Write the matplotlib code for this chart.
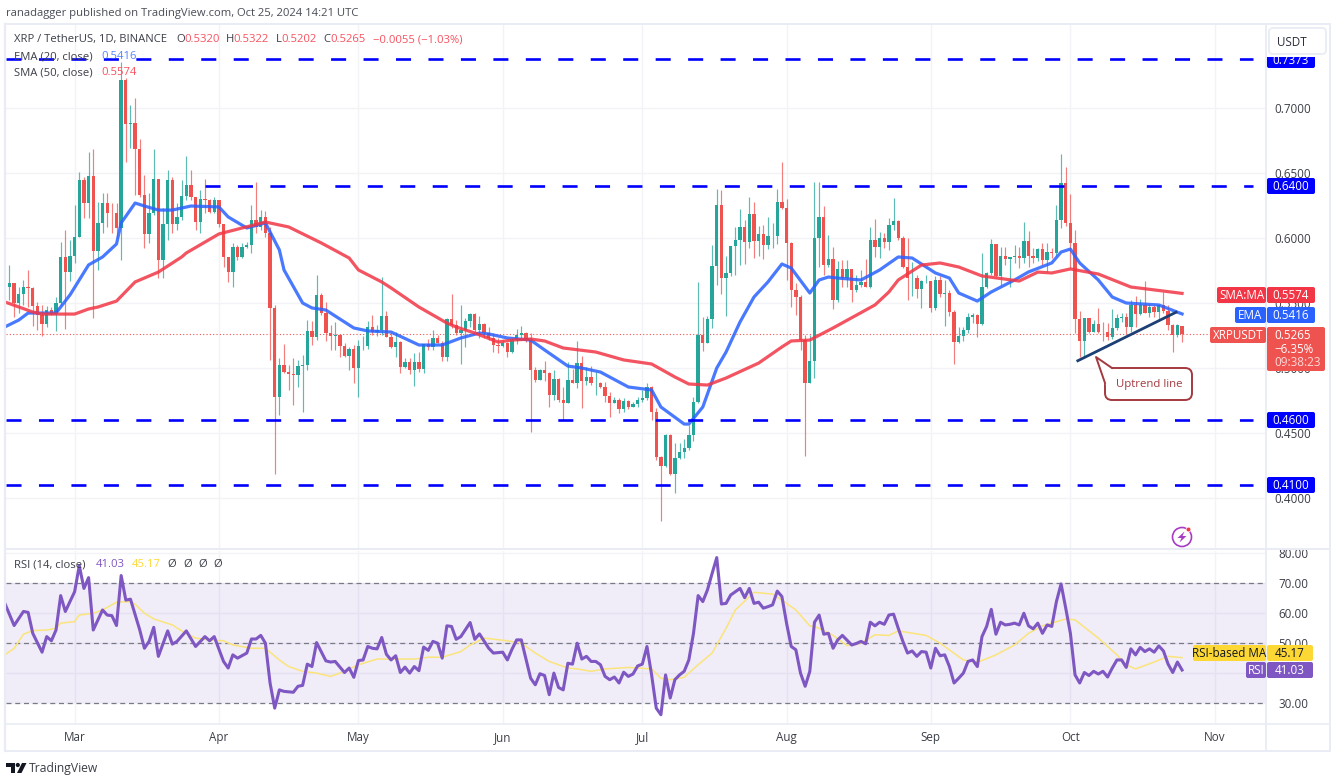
import matplotlib
matplotlib.use("Agg")
import matplotlib.pyplot as plt
from matplotlib.patches import FancyBboxPatch, Polygon, Circle, Rectangle
import numpy as np

plt.rcParams["font.family"] = ["Open Sans", "DejaVu Sans"]

# ----------------------------
# Candles, one per day from Feb 16 to Oct 25
# ----------------------------
first_open = 0.5621

closes = [
    .5652, .5498, .5570, .5621, .5618, .5477, .5408, .5339, .5446, .5421,
    .5498, .5857, .5741, .5862, .6010, .6446, .6267, .6477, .5903, .6118,
    .6267, .6195, .6190, .6075, .7215, .6877, .6887, .6687, .6331, .6028,
    .6190, .6451, .5831, .6108, .6446, .6108, .6164, .6323, .6408, .6318,
    .6126, .6300, .6292, .6203, .6292, .6108, .5857, .5741, .5928, .5857,
    .5933, .5946, .6139, .6087, .6164, .6036, .5459, .4780, .5023, .4972,
    .4954, .4946, .5016, .5023, .5287, .5241, .5562, .5421, .5272, .5246,
    .5254, .5170, .5093, .5144, .4998, .5170, .5172, .5313, .5277, .5293,
    .5400, .5236, .5159, .5203, .5011, .5049, .4985, .5049, .4990, .5185,
    .5164, .5229, .5195, .5087, .5377, .5331, .5267, .5292, .5364, .5415,
    .5292, .5336, .5267, .5228, .5177, .5169, .5190, .5126, .5215, .5254,
    .5267, .5215, .4985, .4908, .4985, .4959, .4792, .4913, .4754, .4733,
    .4908, .4887, .5041, .4903, .4928, .4882, .4885, .4851, .4787, .4733,
    .4754, .4687, .4749, .4703, .4720, .4754, .4769, .4851, .4664, .4318,
    .4246, .4485, .4185, .4305, .4351, .4382, .4485, .4736, .5254, .5195,
    .5374, .5785, .6254, .5690, .5728, .5938, .5985, .6082, .5972, .6182,
    .5979, .6028, .5946, .6015, .6018, .6274, .6228, .5959, .5600, .5549,
    .5215, .4882, .5056, .5997, .6164, .5792, .5838, .5523, .5762, .5690,
    .5762, .5600, .5638, .5664, .5626, .5985, .5933, .5997, .5972, .6100,
    .6131, .5997, .5780, .5690, .5695, .5605, .5669, .5672, .5459, .5677,
    .5569, .5574, .5433, .5203, .5246, .5292, .5395, .5408, .5338, .5621,
    .5728, .5954, .5708, .5862, .5836, .5851, .5862, .5844, .5979, .5862,
    .5844, .5913, .5831, .5895, .5882, .6138, .6421, .6113, .5959, .5374,
    .5210, .5382, .5279, .5336, .5279, .5274, .5241, .5305, .5382, .5395,
    .5318, .5485, .5415, .5485, .5426, .5472, .5428, .5485, .5441, .5331,
    .5254, .5331, .5265,
]

highs = [
    .5793, .5652, .5626, .5677, .5754, .5626, .5511, .5485, .5477, .5472,
    .5549, .5972, .6062, .5985, .6254, .6505, .6472, .6664, .6685, .6280,
    .6344, .6344, .6267, .6267, .7350, .7228, .7023, .7075, .6759, .6485,
    .6344, .6685, .6451, .6228, .6523, .6472, .6267, .6446, .6631, .6523,
    .6318, .6369, .6454, .6300, .6318, .6292, .6108, .5844, .5959, .5946,
    .5959, .5972, .6254, .6428, .6215, .6210, .6087, .5485, .5075, .5182,
    .5023, .5075, .5062, .5100, .5370, .5364, .5716, .5580, .5511, .5331,
    .5357, .5262, .5190, .5164, .5177, .5216, .5246, .5364, .5408, .5331,
    .5698, .5439, .5267, .5280, .5211, .5080, .5075, .5113, .5126, .5185,
    .5221, .5293, .5254, .5211, .5382, .5569, .5369, .5485, .5382, .5426,
    .5420, .5402, .5349, .5318, .5267, .5228, .5215, .5203, .5228, .5297,
    .5326, .5279, .5272, .5005, .4992, .5056, .4972, .4985, .4920, .4856,
    .5049, .4990, .5208, .5092, .5010, .5015, .4972, .4895, .4895, .4818,
    .4779, .4767, .4772, .4754, .4741, .4779, .4831, .4882, .4861, .4690,
    .4326, .4490, .4490, .4426, .4426, .4451, .4562, .4779, .5659, .5395,
    .5402, .5946, .6374, .6369, .5862, .5938, .6082, .6223, .6138, .6318,
    .6279, .6092, .6100, .6159, .6113, .6374, .6585, .6297, .5972, .5651,
    .5561, .5254, .5254, .6433, .6433, .6246, .6023, .5928, .5826, .5831,
    .5831, .5754, .5715, .5754, .5836, .6087, .6146, .6049, .6036, .6156,
    .6305, .6138, .6015, .5997, .5818, .5715, .5677, .5715, .5669, .5708,
    .5708, .5677, .5600, .5446, .5318, .5318, .5421, .5426, .5415, .5882,
    .5741, .5990, .5954, .5933, .5928, .5851, .5946, .5933, .6126, .6054,
    .5921, .5921, .5959, .5959, .5921, .6254, .6646, .6549, .6336, .6062,
    .5441, .5382, .5369, .5369, .5459, .5356, .5344, .5451, .5415, .5421,
    .5421, .5523, .5554, .5528, .5669, .5492, .5485, .5485, .5587, .5485,
    .5336, .5338, .5322,
]

lows = [
    .5523, .5395, .5421, .5485, .5472, .5323, .5293, .5246, .5313, .5408,
    .5287, .5485, .5298, .5672, .5805, .6005, .6152, .6152, .5382, .5754,
    .6036, .6087, .6036, .5998, .5831, .6587, .6690, .6331, .6318, .5921,
    .5959, .6177, .5690, .5690, .5985, .6036, .6062, .6139, .6292, .6292,
    .6062, .6036, .6190, .6190, .6190, .6087, .5780, .5664, .5626, .5831,
    .5844, .5921, .5882, .6036, .6062, .6010, .5062, .4185, .4639, .4959,
    .4831, .4716, .4857, .4664, .4985, .5177, .5216, .5408, .5211, .5139,
    .5139, .5082, .5082, .4985, .4882, .4780, .5139, .5144, .5254, .5246,
    .5254, .5236, .5152, .5087, .4964, .4998, .4954, .4864, .4972, .4964,
    .5139, .5139, .5195, .5057, .5056, .5305, .5254, .5028, .5164, .5318,
    .5279, .5233, .5228, .5215, .5126, .5113, .5164, .5082, .5118, .5182,
    .5228, .5203, .4510, .4895, .4908, .4903, .4703, .4754, .4741, .4600,
    .4728, .4882, .4844, .4690, .4869, .4869, .4792, .4844, .4741, .4620,
    .4728, .4651, .4664, .4682, .4697, .4697, .4741, .4754, .4600, .4292,
    .3826, .4236, .4177, .4036, .4297, .4305, .4369, .4441, .4728, .5133,
    .5190, .5305, .5638, .5569, .5400, .5708, .5715, .5792, .5797, .5920,
    .5844, .5862, .5836, .5913, .5920, .5954, .6220, .5677, .5467, .5408,
    .5138, .4323, .4882, .4920, .5779, .5715, .5779, .5451, .5510, .5626,
    .5626, .5505, .5587, .5620, .5620, .5613, .5856, .5844, .5920, .5908,
    .6062, .5985, .5767, .5523, .5554, .5536, .5459, .5651, .5433, .5446,
    .5549, .5323, .5400, .5031, .5195, .5210, .5272, .5344, .5236, .5331,
    .5613, .5715, .5703, .5638, .5792, .5626, .5805, .5767, .5805, .5780,
    .5805, .5823, .5792, .5741, .5844, .5862, .6080, .6092, .5767, .5267,
    .5082, .5074, .5272, .5279, .5272, .5210, .5215, .5221, .5292, .5356,
    .5262, .5279, .5318, .5408, .5421, .5395, .5395, .5364, .5426, .5292,
    .5121, .5241, .5202,
]

# ----------------------------
# Moving averages, read at their turning points
# ----------------------------
ema_days = [
    -1, 2, 4, 10, 13, 17, 20, 23, 24, 27, 29, 32, 35, 39, 45, 47, 51, 55, 58, 59,
    63, 65, 68, 74, 77, 82, 88, 93, 97, 101, 103, 107, 112, 115, 120, 123, 127,
    133, 138, 140, 145, 146, 149, 152, 154, 157, 160, 163, 166, 168, 172, 174,
    176, 178, 183, 187, 191, 194, 199, 202, 204, 208, 211, 216, 219, 224, 226,
    228, 230, 234, 237, 240, 247, 252,
]
ema_vals = [
    .5316, .5369, .5423, .5423, .5562, .5793, .5854, .5954, .6116, .6269, .6246,
    .6215, .6215, .6246, .6239, .6162, .6077, .6116, .5908, .5754, .5500, .5462,
    .5446, .5308, .5285, .5277, .5177, .5177, .5231, .5269, .5262, .5231, .5215,
    .5139, .5015, .5000, .4969, .4854, .4831, .4700, .4569, .4569, .4700, .5000,
    .5123, .5354, .5546, .5662, .5800, .5769, .5577, .5677, .5700, .5692, .5677,
    .5754, .5854, .5846, .5731, .5692, .5577, .5515, .5585, .5677, .5739, .5808,
    .5892, .5915, .5808, .5677, .5546, .5500, .5485, .5416,
]

sma_days = [
    -1, 5, 7, 14, 17, 19, 23, 27, 32, 37, 38, 45, 50, 55, 60, 67, 73, 75, 80, 82,
    88, 94, 96, 100, 105, 108, 112, 115, 119, 126, 132, 138, 143, 146, 150, 154,
    161, 166, 168, 172, 177, 186, 189, 191, 196, 200, 204, 209, 217, 221, 224,
    228, 234, 241, 248, 252,
]
sma_vals = [
    .5508, .5431, .5415, .5415, .5454, .5469, .5515, .5662, .5738, .5854, .5885,
    .6031, .6077, .6123, .6085, .5962, .5846, .5754, .5662, .5616, .5469, .5346,
    .5316, .5269, .5200, .5215, .5223, .5208, .5154, .5123, .5062, .5031, .4931,
    .4877, .4869, .4923, .5038, .5162, .5208, .5215, .5308, .5485, .5585, .5677,
    .5792, .5808, .5777, .5708, .5669, .5738, .5731, .5762, .5723, .5623, .5592,
    .5574,
]

# ----------------------------
# RSI pane
# ----------------------------
rsi_days = [
    -1, 1, 3, 4, 5, 7, 8, 9, 10, 11, 12, 14, 15, 16, 17, 18, 20, 21, 22, 23, 24,
    25, 26, 28, 29, 30, 31, 32, 34, 35, 36, 38, 40, 42, 43, 44, 46, 47, 48, 49,
    51, 52, 53, 54, 55, 56, 57, 58, 59, 61, 62, 63, 64, 65, 66, 68, 69, 70, 72,
    73, 74, 75, 76, 77, 78, 79, 80, 81, 82, 83, 84, 85, 86, 87, 88, 89, 90, 91,
    92, 93, 94, 95, 96, 97, 99, 100, 101, 103, 104, 106, 107, 108, 109, 110,
    112, 113, 114, 115, 116, 117, 118, 119, 120, 121, 122, 123, 124, 125, 126,
    127, 128, 129, 130, 131, 132, 133, 134, 135, 136, 137, 138, 139, 140, 141,
    142, 143, 144, 145, 146, 147, 148, 149, 150, 151, 152, 153, 154, 155, 156,
    157, 158, 159, 160, 161, 162, 163, 164, 165, 166, 167, 168, 169, 170, 171,
    172, 173, 174, 175, 176, 177, 178, 179, 180, 181, 182, 183, 184, 185, 186,
    187, 188, 189, 190, 191, 192, 193, 194, 195, 196, 197, 198, 199, 200, 201,
    202, 203, 204, 205, 206, 207, 208, 209, 210, 211, 212, 213, 214, 215, 216,
    217, 218, 219, 220, 221, 222, 223, 224, 225, 226, 227, 228, 229, 230, 231,
    232, 233, 234, 235, 236, 237, 238, 239, 240, 241, 242, 243, 244, 245, 246,
    247, 248, 249, 250, 251, 252,
]
rsi_vals = [
    63.3, 55.9, 60.6, 60.3, 53.3, 47.0, 52.2, 50.8, 54.4, 65.9, 60.6, 67.2, 75.9,
    68.3, 71.9, 54.4, 61.1, 59.4, 59.2, 55.9, 72.6, 64.4, 64.7, 54.4, 48.3, 50.6,
    55.3, 45.6, 54.1, 49.7, 50.6, 54.1, 48.9, 52.2, 50.8, 52.2, 43.9, 41.7, 46.1,
    45.0, 46.7, 51.4, 51.4, 52.6, 50.0, 36.7, 28.3, 34.4, 33.9, 33.6, 35.6, 35.9,
    43.0, 42.2, 50.2, 44.1, 43.7, 43.9, 40.2, 41.7, 38.6, 44.2, 44.4, 48.9, 48.3,
    48.1, 51.9, 46.3, 44.4, 45.8, 40.2, 42.0, 40.0, 42.2, 40.8, 48.7, 47.6, 50.6,
    50.0, 45.0, 55.8, 55.6, 51.3, 52.2, 56.9, 51.3, 53.1, 48.3, 46.7, 47.0, 44.4,
    48.0, 51.1, 51.1, 38.3, 36.1, 39.8, 39.2, 32.8, 40.0, 35.2, 34.4, 43.3, 43.0,
    50.0, 44.7, 45.6, 43.9, 43.9, 42.8, 38.9, 37.8, 38.7, 36.7, 40.3, 38.9, 39.7,
    42.4, 43.0, 48.9, 39.4, 28.3, 26.1, 39.4, 31.7, 37.8, 39.4, 40.6, 44.4, 53.3,
    65.9, 63.9, 67.8, 73.3, 78.6, 63.1, 63.3, 66.1, 67.2, 68.3, 65.2, 68.3, 63.3,
    63.7, 61.7, 62.2, 62.8, 67.4, 65.6, 56.7, 48.9, 47.8, 40.0, 35.6, 40.6, 57.0,
    59.4, 53.0, 53.3, 48.3, 51.1, 52.6, 51.0, 49.4, 49.9, 50.6, 49.8, 57.0, 55.8,
    57.0, 56.3, 59.4, 59.7, 55.0, 50.6, 46.7, 47.4, 45.6, 47.2, 47.0, 41.7, 48.3,
    45.8, 46.1, 42.2, 36.7, 38.3, 40.0, 43.9, 44.4, 42.2, 52.2, 55.6, 61.3, 53.0,
    57.0, 56.1, 56.3, 56.7, 56.1, 60.0, 55.8, 54.8, 56.7, 53.3, 56.1, 55.6, 63.9,
    69.8, 61.7, 53.3, 39.4, 36.7, 40.2, 39.2, 40.6, 39.7, 40.6, 38.7, 41.7, 44.4,
    44.4, 41.9, 48.1, 46.1, 48.6, 47.2, 48.1, 47.0, 49.1, 47.4, 43.0, 40.2, 43.7,
    41.03,
]

rsi_ma_days = [
    -1, 1, 3, 5, 8, 10, 11, 14, 15, 18, 20, 23, 26, 27, 29, 31, 35, 37, 40, 43,
    46, 48, 52, 55, 58, 60, 63, 66, 69, 71, 75, 79, 82, 87, 90, 93, 97, 99, 102,
    107, 110, 113, 116, 120, 122, 125, 128, 133, 138, 140, 142, 145, 148, 151,
    154, 156, 160, 164, 166, 169, 172, 174, 177, 180, 183, 186, 189, 191, 197,
    200, 205, 208, 212, 216, 219, 222, 224, 227, 229, 234, 238, 240, 242, 246,
    249, 252,
]
rsi_ma_vals = [
    46.1, 48.3, 53.0, 54.2, 54.4, 55.0, 56.7, 57.2, 59.4, 60.0, 61.1, 63.7, 63.9,
    63.0, 60.0, 58.1, 56.1, 54.1, 51.7, 51.1, 50.8, 49.4, 48.3, 48.3, 44.4, 42.2,
    40.6, 40.0, 38.9, 40.0, 42.8, 44.7, 44.7, 44.7, 45.3, 45.3, 47.2, 49.4, 51.7,
    50.8, 50.0, 46.7, 43.9, 41.7, 41.4, 40.6, 41.4, 41.9, 41.4, 38.3, 37.8, 38.6,
    42.8, 46.7, 55.0, 61.1, 67.0, 66.4, 64.4, 61.1, 55.8, 55.0, 52.6, 49.2, 50.0,
    52.8, 52.6, 54.1, 52.6, 50.0, 44.4, 43.6, 46.1, 49.4, 53.3, 55.8, 56.7, 58.1,
    57.8, 51.7, 46.1, 42.8, 41.4, 43.7, 45.6, 45.17,
]

# ----------------------------
# Levels and axis labels
# ----------------------------
level_prices = [0.7373, 0.6400, 0.4600, 0.4100]
level_starts = [-0.75, 42, -0.75, -0.75]
trend_days = [229.6, 250.7]
trend_prices = [0.5056, 0.5429]
last_price = 0.5265

month_days = [14, 45, 75, 106, 136, 167, 198, 228, 259]
month_labels = ["Mar", "Apr", "May", "Jun", "Jul", "Aug", "Sep", "Oct", "Nov"]
price_ticks = [0.40, 0.45, 0.50, 0.55, 0.60, 0.65, 0.70]
rsi_ticks = [30, 40, 50, 60, 70, 80]
rsi_tick_labels = ["30.00", "", "50.00", "60.00", "70.00", "80.00"]

UP = "#26a69a"
DOWN = "#ef5350"
GRID = "#f2f3f7"
FRAME = "#e9ecf4"
TEXT = "#3c3f48"
W, H = 1336, 784


def pane(x0, y0, x1, y1):
    # axes from pixel box of the reference
    return fig.add_axes([x0 / W, 1 - y1 / H, (x1 - x0) / W, (y1 - y0) / H])


fig = plt.figure(figsize=(W / 100, H / 100), dpi=100, facecolor="white")

# ----------------------------
# Price pane
# ----------------------------
ax = pane(6, 24, 1266, 549)
days = np.arange(len(closes))
closes_a = np.array(closes)
opens_a = np.array([first_open] + closes[:-1])
opens_a[-1] = 0.5320
colors = [UP if c >= o else DOWN for o, c in zip(opens_a, closes_a)]

ax.vlines(days, lows, highs, colors=colors, linewidth=0.85, alpha=0.75, zorder=3)
ax.bar(days, closes_a - opens_a, bottom=opens_a, width=0.72, color=colors, linewidth=0, zorder=3)
ax.plot(ema_days, ema_vals, color="#2962ff", linewidth=2.3, alpha=0.85, zorder=4)
ax.plot(sma_days, sma_vals, color="#f23645", linewidth=2.3, alpha=0.85, zorder=4)
ax.axhline(last_price, color=DOWN, linewidth=0.8, linestyle=(0, (1, 2)), zorder=2)

for price, start in zip(level_prices, level_starts):
    ax.plot([start, 267.2], [price, price], color="#0000ff", linewidth=1.9,
            linestyle=(0, (5.7, 6.6)), dash_capstyle="butt", zorder=5)
ax.plot(trend_days, trend_prices, color="#1c3f74", linewidth=2.0, zorder=5)

ax.set_xlim(-0.75, 270.04)
ax.set_ylim(0.3608, 0.7646)
ax.set_xticks(month_days)
ax.set_yticks(price_ticks)
ax.set_yticklabels([f"{t:.4f}" for t in price_ticks])
ax.yaxis.tick_right()
ax.tick_params(axis="y", length=0, pad=5.8, labelsize=8.4, labelcolor=TEXT)
ax.tick_params(axis="x", length=0, labelbottom=False)
ax.grid(color=GRID, linewidth=1)
ax.set_axisbelow(True)
for s in ax.spines.values():
    s.set_visible(False)

# ----------------------------
# RSI pane
# ----------------------------
ax_rsi = pane(6, 551, 1266, 724)
ax_rsi.axhspan(30, 70, color="#7e57c2", alpha=0.11, linewidth=0, zorder=1)
for level in [30, 50, 70]:
    ax_rsi.axhline(level, color="#787b86", linewidth=0.9, linestyle=(0, (4, 3)), zorder=2)
ax_rsi.plot(rsi_ma_days, rsi_ma_vals, color="#fbe47a", linewidth=1.1, zorder=3)
ax_rsi.plot(rsi_days, rsi_vals, color="#7e57c2", linewidth=2.2, zorder=4)
ax_rsi.set_xlim(-0.75, 270.04)
ax_rsi.set_ylim(23.0, 80.8)
ax_rsi.set_xticks(month_days)
ax_rsi.set_xticklabels(month_labels)
ax_rsi.set_yticks(rsi_ticks)
ax_rsi.set_yticklabels(rsi_tick_labels)
ax_rsi.yaxis.tick_right()
ax_rsi.tick_params(axis="y", length=0, pad=9, labelsize=8.4, labelcolor=TEXT)
ax_rsi.tick_params(axis="x", length=0, pad=5, labelsize=8.4, labelcolor=TEXT)
ax_rsi.grid(color=GRID, linewidth=1)
ax_rsi.set_axisbelow(True)
for s in ax_rsi.spines.values():
    s.set_visible(False)

# ----------------------------
# Everything else sits on a pixel overlay
# ----------------------------
ov = fig.add_axes([0, 0, 1, 1], zorder=10)
ov.set_xlim(0, W)
ov.set_ylim(H, 0)
ov.axis("off")


def txt(x, y, s, color=TEXT, size=8.1, ha="left", **kw):
    ov.text(x, y + 0.6, s, color=color, fontsize=size, ha=ha, va="center", **kw)


def tag(x0, x1, y0, y1, color, label=None, tc="white"):
    ov.add_patch(FancyBboxPatch((x0 + 1, y0 + 1), x1 - x0 - 2, y1 - y0 - 2,
                                boxstyle="round,pad=1,rounding_size=2", facecolor=color,
                                edgecolor="none", zorder=6))
    if label:
        txt((x0 + x1) / 2, (y0 + y1) / 2, label, color=tc, size=8.4, ha="center", zorder=7)


# top of 80.00 is cut by the pane border
ov.add_patch(Rectangle((1267, 540), 60, 9.5, facecolor="white", edgecolor="none", zorder=1))

# frame lines
for x0, y0, x1, y1, lw in [(5, 24, 1330, 24, 1.4), (5, 549, 1330, 549, 1.4), (5, 724, 1330, 724, 1.2),
                           (5, 751, 1330, 751, 1.4), (5, 24, 5, 751, 1.6), (1330, 24, 1330, 751, 1.4),
                           (1266, 24, 1266, 751, 1.3)]:
    ov.plot([x0, x1], [y0, y1], color=FRAME, linewidth=lw, zorder=2)

txt(6, 13, "ranadagger published on TradingView.com, Oct 25, 2024 14:21 UTC", color="#4a4d57")
txt(14, 39, "XRP / TetherUS, 1D, BINANCE")
for x, s in [(176, "O"), (226, "H"), (276, "L"), (323, "C")]:
    txt(x, 39, s)
for x, s in [(184, "0.5320"), (233, "0.5322"), (281, "0.5202"), (330, "0.5265"), (373, "\u22120.0055 (\u22121.03%)")]:
    txt(x, 39, s, color="#f7525f")
txt(14, 56, "EMA (20, close)")
txt(101, 56, "0.5416", color="#2962ff", alpha=0.8)
txt(14, 72, "SMA (50, close)")
txt(101, 72, "0.5574", color="#f7525f")
txt(14, 564, "RSI (14, close)")
txt(96, 564, "41.03", color="#7e57c2")
txt(132, 564, "45.17", color="#fdd835")
for x in [167, 183, 198, 213]:
    txt(x, 564, "\u00d8")

# scale tags
for y_mid, label in [(60, "0.7373"), (186, "0.6400"), (420, "0.4600"), (485, "0.4100")]:
    tag(1267, 1315, y_mid - 8, y_mid + 8, "#0000ff", label)
tag(1217, 1266, 287, 303, "#f23645", "SMA:MA")
tag(1267, 1315, 287, 303, "#f23645", "0.5574")
tag(1235, 1266, 307, 323, "#2962ff", "EMA")
tag(1267, 1315, 307, 323, "#2962ff", "0.5416")
tag(1210, 1266, 327, 343, DOWN, "XRPUSDT")
tag(1267, 1325, 327, 371, DOWN)
txt(1274, 335, "0.5265", color="white", size=8.4, zorder=7)
txt(1274, 348.5, "\u22126.35%", color="white", size=8.4, zorder=7)
txt(1274, 362, "09:38:23", color="#ffd9d8", size=8.4, zorder=7)
tag(1193, 1266, 645, 661, "#fdd835", "RSI-based MA", tc="#131722")
tag(1267, 1313, 645, 661, "#fdd835", "45.17", tc="#131722")
tag(1246, 1266, 662, 678, "#7e57c2", "RSI")
tag(1267, 1313, 662, 678, "#7e57c2", "41.03")

# USDT button covers the top of the 0.7373 tag
ov.add_patch(Rectangle((1267, 25), 62, 32, facecolor="white", edgecolor="none", zorder=8))
ov.add_patch(FancyBboxPatch((1269, 28), 57, 26, boxstyle="round,pad=0,rounding_size=4", facecolor="white",
                            edgecolor=FRAME, linewidth=1.3, zorder=9))
txt(1292, 41.5, "USDT", color="#2a2e39", ha="center", size=8.4, zorder=10)

# Uptrend line callout
callout = "#a33a40"
ov.add_patch(FancyBboxPatch((1105, 368), 87, 32, boxstyle="round,pad=0,rounding_size=7", facecolor="white",
                            edgecolor=callout, linewidth=1.4, zorder=3))
ov.add_patch(Polygon([(1096, 357), (1112, 369), (1106, 385)], closed=True, facecolor="white", edgecolor="none", zorder=4))
ov.plot([1112, 1096, 1105], [368, 357, 383], color=callout, linewidth=1.4, zorder=5)
txt(1149, 384, "Uptrend line", color=callout, ha="center", size=8.2, zorder=5)

# lightning badge
ov.add_patch(Circle((1182, 537), 9.5, facecolor="white", edgecolor="#a63cc4", linewidth=1.2, zorder=5))
ov.add_patch(Polygon([(1184.5, 531.5), (1177.5, 538), (1181.5, 538), (1179.5, 542.5), (1186.5, 536), (1182.5, 536)],
                     closed=True, facecolor="#a63cc4", edgecolor="none", zorder=6))
ov.add_patch(Circle((1188.5, 529.5), 2.4, facecolor="#f23645", edgecolor="white", linewidth=0.5, zorder=7))

# TradingView logo
ov.add_patch(Rectangle((6, 763), 9, 4, facecolor="#131722", edgecolor="none"))
ov.add_patch(Rectangle((10.5, 763), 4.5, 10, facecolor="#131722", edgecolor="none"))
ov.add_patch(Circle((17.8, 765), 2.1, facecolor="#131722", edgecolor="none"))
ov.add_patch(Polygon([(22, 763), (26.5, 763), (21.5, 773), (17, 773)], closed=True, facecolor="#131722", edgecolor="none"))
txt(29, 768, "TradingView", color="#3c3f48", size=8.7)

fig.savefig("out.png", dpi=100, facecolor="white")
